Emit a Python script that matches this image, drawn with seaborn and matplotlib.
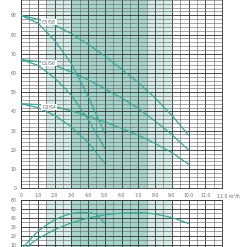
import numpy as np
import pandas as pd
import matplotlib
matplotlib.use("Agg")
import matplotlib.pyplot as plt
import matplotlib.transforms as mtransforms
import seaborn as sns
from matplotlib.ticker import MultipleLocator

sns.set_theme(style="white")
plt.rcParams['font.family'] = ['DejaVu Sans']

# ---- data ----
models = ["D1/S8", "D1/S6", "D1/S4"]
q_long = [0, 1, 2, 3, 4, 5, 6, 7, 8, 9, 10]
h_long_s8 = [90, 88, 85, 80.5, 75, 68.8, 62, 55, 47, 38, 27.7]
h_long_s6 = [67, 66, 64, 60.5, 56.5, 51.8, 47, 41.5, 35, 28, 19.9]
h_long_s4 = [44, 43.6, 42.5, 40.3, 37.6, 34.5, 31.2, 27.6, 23.4, 18.6, 12.5]
q_short = [0, 1, 2, 3, 4, 5]
h_short_s8 = [90, 86, 77, 65, 48, 28.6]
h_short_s6 = [67, 64, 57.5, 48.5, 36, 20.8]
h_short_s4 = [44, 42, 38, 32, 24, 13]

eff_q_short = [0.15, 0.5, 1, 1.5, 2, 2.5, 3, 3.5, 4, 4.5, 5]
eff_short = [8, 15, 25, 32, 38, 42, 45, 46.3, 46, 44.5, 34]
eff_q_long = [0.35, 1, 2, 3, 4, 5, 6, 7, 7.5, 8, 9, 10]
eff_long = [8, 17, 27, 34.5, 40, 43.5, 45.5, 46, 45.5, 44.5, 40.5, 34]

label_q = [1.67, 1.67, 1.67]
label_h = [86.5, 65.2, 42.3]

x_ticks = [0, 1, 2, 3, 4, 5, 6, 7, 8, 9, 10, 11, 12]
x_tick_labels = ["0", "1.0", "2.0", "3.0", "4.0", "5.0", "6.0", "7.0", "8.0",
                 "9.0", "10.0", "11.0", "12.0 m\u00b3/h"]
h_ticks = [0, 10, 20, 30, 40, 50, 60, 70, 80, 90]
e_ticks = [10, 20, 30, 40, 50, 60]
band_outer = (1.5, 9.0)
band_inner = (3.0, 7.5)

curve_color = "#3aa596"
grid_major = "#3c3c3c"
grid_minor = "#6e6e6e"
txt_color = "#666666"

fig = plt.figure(figsize=(2.47, 2.47), dpi=100)
ax1 = fig.add_axes([0.085, 0.2377, 0.814, 0.778])
ax2 = fig.add_axes([0.085, -0.0283, 0.814, 0.2186])

head_frames = []
for name, q, h in [("S8L", q_long, h_long_s8), ("S6L", q_long, h_long_s6),
                   ("S4L", q_long, h_long_s4), ("S8S", q_short, h_short_s8),
                   ("S6S", q_short, h_short_s6), ("S4S", q_short, h_short_s4)]:
    head_frames.append(pd.DataFrame({"Q": q, "H": h, "curve": name}))
head_df = pd.concat(head_frames, ignore_index=True)

eff_df = pd.concat([
    pd.DataFrame({"Q": eff_q_short, "E": eff_short, "curve": "short"}),
    pd.DataFrame({"Q": eff_q_long, "E": eff_long, "curve": "long"}),
], ignore_index=True)

for ax in (ax1, ax2):
    ax.set_facecolor("white")
    ax.axvspan(*band_outer, color="#d6ece8", zorder=0, lw=0)
    ax.axvspan(*band_inner, color="#a4d5cc", zorder=0, lw=0)
    ax.set_xlim(0, 12)
    ax.xaxis.set_major_locator(MultipleLocator(1))
    ax.xaxis.set_minor_locator(MultipleLocator(0.5))
    ax.grid(which="major", axis="x", color=grid_major, lw=0.65, zorder=1)
    ax.grid(which="minor", axis="x", color=grid_minor, lw=0.45, zorder=1)
    ax.grid(which="major", axis="y", color=grid_major, lw=0.65, zorder=1)
    ax.grid(which="minor", axis="y", color=grid_minor, lw=0.45, zorder=1)
    ax.set_axisbelow(True)
    for s in ax.spines.values():
        s.set_color(grid_major)
        s.set_linewidth(0.65)
    ax.tick_params(axis="both", which="both", length=0, labelsize=3.3,
                   colors=txt_color, pad=2)
    ax.tick_params(axis="y", which="major", length=1.5, width=0.5, color=grid_major)

sns.lineplot(data=head_df, x="Q", y="H", units="curve", estimator=None,
             color=curve_color, lw=0.9, ax=ax1, zorder=3, sort=False)
ax1.set_ylim(0, 100)
ax1.yaxis.set_minor_locator(MultipleLocator(2))
ax1.set_yticks(h_ticks)
ax1.set_xticks(x_ticks)
ax1.set_xticklabels(x_tick_labels)
ax1.tick_params(axis="x", which="major", length=1.5, width=0.5, color=grid_major)
ax1.set_xlabel("")
ax1.set_ylabel("")
last = ax1.get_xticklabels()[-1]
last.set_ha("left")
last.set_transform(last.get_transform() +
                   mtransforms.ScaledTranslation(-5 / 100, 0, fig.dpi_scale_trans))
for name, lq, lh in zip(models, label_q, label_h):
    ax1.text(lq, lh, name, fontsize=3.3, color=txt_color, ha="center", va="center",
             zorder=4, bbox=dict(boxstyle="square,pad=0.15", fc="white", ec="none"))

sns.lineplot(data=eff_df, x="Q", y="E", units="curve", estimator=None,
             color=curve_color, lw=0.9, ax=ax2, zorder=3, sort=False)
ax2.set_ylim(0, 60)
ax2.yaxis.set_minor_locator(MultipleLocator(5))
ax2.set_yticks(e_ticks)
ax2.set_xticks(x_ticks)
ax2.set_xticklabels([])
ax2.set_xlabel("")
ax2.set_ylabel("")

fig.savefig("out.png", dpi=100)
